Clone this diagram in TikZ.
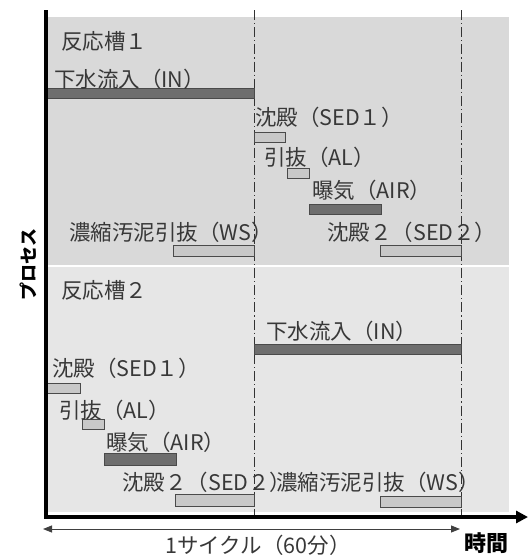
\documentclass[tikz,border=0pt]{standalone}
\usepackage{fontspec}
\setmainfont{Noto Sans CJK JP}
\usetikzlibrary{arrows.meta}
\definecolor{txt}{HTML}{383838}
\definecolor{panelA}{HTML}{D9D9D9}
\definecolor{panelB}{HTML}{E6E6E6}
\definecolor{darkbar}{HTML}{6E6E6E}
\definecolor{lightbar}{HTML}{C8C8C8}
\definecolor{barline}{HTML}{4A4A4A}
\tikzset{
  lbl/.style={anchor=west, inner sep=0pt, text=txt, font=\fontsize{21.5}{24}\selectfont},
  darkbox/.style={fill=darkbar, draw=barline, line width=0.9pt},
  lightbox/.style={fill=lightbar, draw=barline, line width=0.9pt},
  divline/.style={draw=black!80, line width=0.9pt, dash pattern=on 10pt off 3pt on 1.2pt off 3pt},
  axisline/.style={line width=3.5pt, black},
}
\begin{document}
\begin{tikzpicture}[x=1pt,y=-1pt]
\useasboundingbox (0,0) rectangle (529,555);
% panels
\fill[panelA] (46,17) rectangle (509,265);
\fill[panelB] (46,267) rectangle (509,512);
% divider lines
\coordinate (d1t) at (254,10); \coordinate (d1b) at (254,517);
\coordinate (d2t) at (461,10); \coordinate (d2b) at (461,517);
\draw[divline] (d1t) -- (d1b);
\draw[divline] (d2t) -- (d2b);
% reactor 1
\node[lbl] (r1) at (61,41) {反応槽１};
\draw[darkbox] (46,88) rectangle (254,98);
\node[lbl] (in1) at (54,79) {下水流入（IN）};
\draw[lightbox] (254,132) rectangle (285,142);
\node[lbl] (sed1a) at (255,117) {沈殿（SED１）};
\draw[lightbox] (287,168) rectangle (309,178);
\node[lbl] (al1) at (264,157) {引抜（AL）};
\draw[darkbox] (309,204) rectangle (381,214);
\node[lbl] (air1) at (312,190) {曝気（AIR）};
\draw[lightbox] (380,245) rectangle (461,256);
\node[lbl] (sed2a) at (327,232) {沈殿２（SED２）};
\draw[lightbox] (173,245) rectangle (254,256);
\node[lbl] (ws1) at (69,232) {濃縮汚泥引抜（WS）};
% reactor 2
\node[lbl] (r2) at (61,290) {反応槽２};
\draw[darkbox] (254,344) rectangle (461,354);
\node[lbl] (in2) at (266,331) {下水流入（IN）};
\draw[lightbox] (47,383) rectangle (80,393);
\node[lbl] (sed1b) at (52,368) {沈殿（SED１）};
\draw[lightbox] (82,419) rectangle (104,429);
\node[lbl] (al2) at (59,410) {引抜（AL）};
\draw[darkbox] (104,453) rectangle (176,465);
\node[lbl] (air2) at (106,442) {曝気（AIR）};
\draw[lightbox] (175,494) rectangle (254,506);
\node[lbl] (sed2b) at (122,482) {沈殿２（SED２）};
\draw[lightbox] (380,496) rectangle (461,507);
\node[lbl] (ws2) at (276,482) {濃縮汚泥引抜（WS）};
% axes
\coordinate (o) at (46,517);
\coordinate (ytop) at (46,10);
\coordinate (xend) at (528,517);
\draw[axisline] (ytop) -- (o);
\draw[axisline, -{Triangle[length=12pt,width=12pt]}] ([xshift=-1.75pt]o) -- (xend);
\node[anchor=center, inner sep=0pt, rotate=90, font=\fontsize{18}{20}\selectfont\bfseries] (ylab) at (28,264) {プロセス};
\node[anchor=center, inner sep=0pt, font=\fontsize{22}{24}\selectfont\bfseries] (xlab) at (486,543) {時間};
% cycle arrow
\coordinate (cl) at (43,529);
\coordinate (cr) at (460,529);
\draw[black!75, line width=0.9pt, {Triangle[length=9pt,width=7pt]}-{Triangle[length=9pt,width=7pt]}] (cl) -- (cr);
\node[lbl, anchor=center] (cyc) at (258,545) {1サイクル（60分）};
\end{tikzpicture}
\end{document}
